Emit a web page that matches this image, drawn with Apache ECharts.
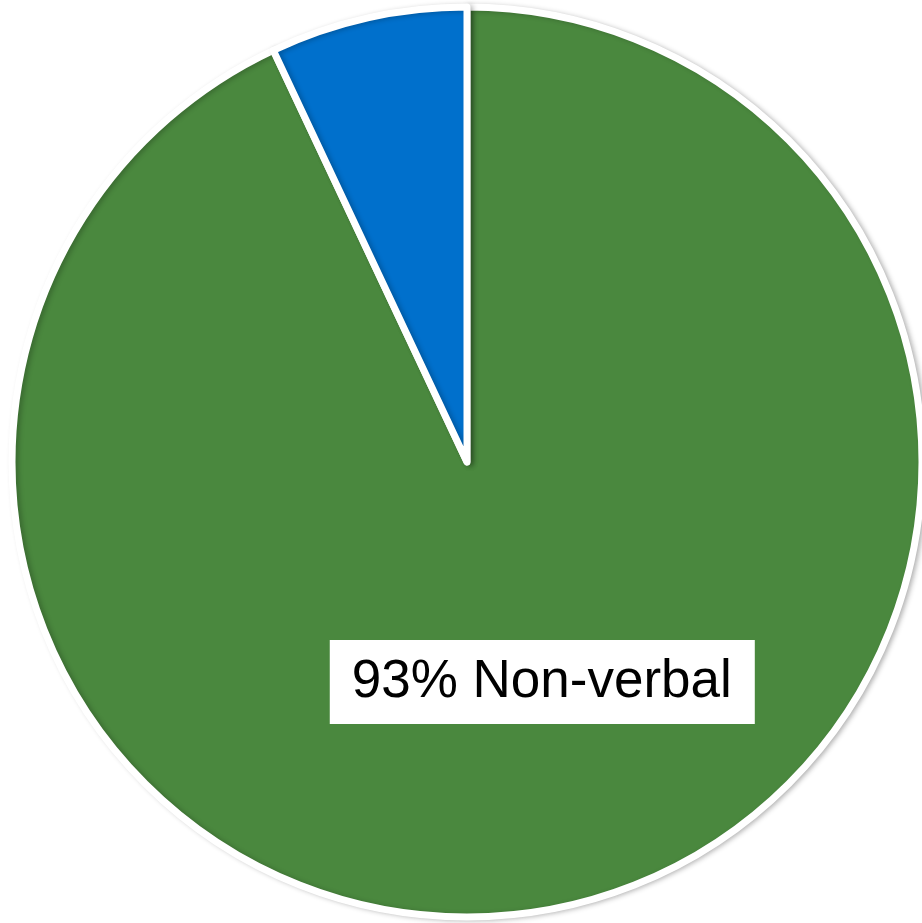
<!DOCTYPE html>
<html>
<head>
<meta charset="utf-8">
<style>
  html, body { margin: 0; padding: 0; background: #ffffff; }
  #chart { width: 922px; height: 923px; }
</style>
<script src="https://cdn.jsdelivr.net/npm/echarts@6/dist/echarts.min.js"></script>
</head>
<body>
<div id="chart"></div>
<script>
// Share of communication: non-verbal vs verbal
const categories = ['Non-verbal', 'Verbal'];
const shares = [93, 7];
const sliceColors = ['#4a883e', '#0070cc'];
const shownLabels = ['Non-verbal'];

const chart = echarts.init(document.getElementById('chart'), null, { renderer: 'canvas' });

const data = categories.map((name, i) => ({
  name: name,
  value: shares[i],
  itemStyle: { color: sliceColors[i] },
  label: { show: shownLabels.includes(name) }
}));

chart.setOption({
  animation: false,
  backgroundColor: '#ffffff',
  series: [{
    type: 'pie',
    center: [467, 462],
    radius: [0, 455],
    startAngle: 90,
    clockwise: true,
    data: data,
    itemStyle: {
      borderColor: '#ffffff',
      borderWidth: 7,
      shadowColor: 'rgba(0,0,0,0.22)',
      shadowBlur: 5,
      shadowOffsetX: 3,
      shadowOffsetY: 1
    },
    label: {
      position: 'inside',
      offset: [25, -5],
      formatter: '{d}% {b}',
      fontFamily: 'Liberation Sans, Arial, sans-serif',
      fontSize: 53,
      color: '#000000',
      backgroundColor: '#ffffff',
      padding: [19, 23, 12, 22],
      textBorderWidth: 0
    },
    labelLine: { show: false },
    emphasis: { disabled: true }
  }]
});
</script>
</body>
</html>
